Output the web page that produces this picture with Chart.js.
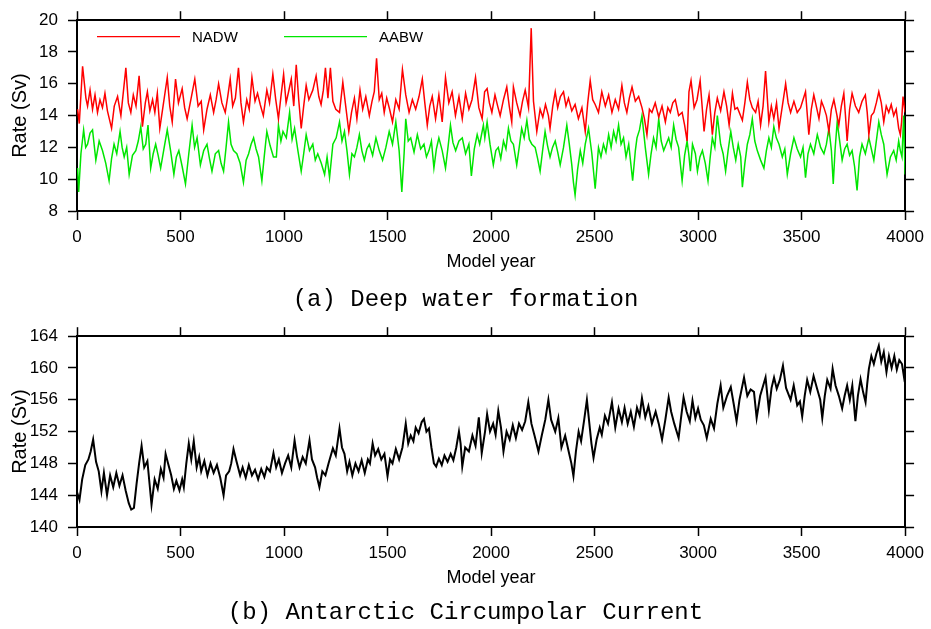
<!DOCTYPE html>
<html>
<head>
<meta charset="utf-8">
<title>Deep water formation and ACC</title>
<script src="https://cdn.jsdelivr.net/npm/chart.js@4.4.1/dist/chart.umd.min.js"></script>
<style>
  html, body { margin: 0; padding: 0; background: #fff; overflow: hidden; }
  canvas { position: absolute; left: 0; }
  #formation { top: 0; }
  #acc { top: 316px; }
</style>
</head>
<body>
<canvas id="formation" width="931" height="316"></canvas>
<canvas id="acc" width="931" height="313"></canvas>
<script>
// NADW formation rate (Sv) by model year
const nadwYears = [3, 11, 27, 43, 51, 63, 75, 87, 99, 111, 123, 135, 147, 167, 180, 196, 212, 236, 248, 260,
  272, 285, 300, 316, 330, 340, 352, 365, 376, 388, 400, 418, 436, 448, 460, 476, 490, 508, 520, 532,
  550, 569, 585, 600, 612, 628, 644, 660, 672, 684, 700, 716, 728, 740, 752, 765, 780, 792, 804, 820,
  832, 845, 860, 872, 885, 900, 917, 930, 946, 960, 973, 986, 998, 1010, 1022, 1035, 1047, 1059, 1071, 1083,
  1095, 1107, 1120, 1139, 1155, 1168, 1179, 1190, 1200, 1212, 1224, 1236, 1250, 1268, 1284, 1298, 1313, 1326, 1340, 1352,
  1367, 1380, 1395, 1412, 1425, 1436, 1447, 1460, 1472, 1484, 1496, 1510, 1524, 1540, 1556, 1572, 1588, 1604, 1620, 1636,
  1652, 1668, 1680, 1692, 1704, 1716, 1732, 1748, 1764, 1780, 1796, 1812, 1828, 1845, 1861, 1877, 1893, 1908, 1925, 1941,
  1957, 1969, 1981, 1992, 2004, 2019, 2032, 2044, 2060, 2076, 2088, 2100, 2108, 2124, 2140, 2152, 2165, 2181, 2194, 2205,
  2221, 2237, 2250, 2263, 2277, 2285, 2298, 2310, 2322, 2335, 2350, 2362, 2374, 2390, 2406, 2422, 2439, 2455, 2467, 2479,
  2491, 2503, 2519, 2535, 2552, 2568, 2584, 2600, 2616, 2632, 2644, 2656, 2668, 2681, 2697, 2713, 2729, 2741, 2753, 2765,
  2777, 2793, 2810, 2826, 2842, 2854, 2866, 2878, 2890, 2906, 2923, 2935, 2947, 2956, 2966, 2981, 2995, 3010, 3029, 3041,
  3053, 3069, 3081, 3093, 3109, 3125, 3138, 3150, 3166, 3178, 3190, 3214, 3226, 3238, 3250, 3262, 3278, 3290, 3302, 3314,
  3326, 3342, 3354, 3366, 3379, 3391, 3407, 3423, 3435, 3447, 3463, 3479, 3495, 3507, 3519, 3535, 3547, 3559, 3571, 3584,
  3596, 3608, 3620, 3632, 3644, 3656, 3668, 3680, 3692, 3704, 3712, 3720, 3732, 3744, 3760, 3776, 3792, 3808, 3817, 3825,
  3837, 3849, 3861, 3873, 3885, 3897, 3909, 3921, 3933, 3945, 3957, 3969, 3977, 3983, 3990, 4000];
const nadwRate = [14.4, 13.5, 17.1, 15.1, 14.6, 15.6, 14.4, 15.3, 14.2, 15.0, 14.5, 15.4, 14.3, 13.2, 14.6, 15.2, 14.0, 17.0, 14.8, 14.2,
  15.3, 14.6, 16.5, 13.3, 14.8, 15.5, 14.3, 15.0, 14.2, 15.4, 13.2, 14.8, 16.4, 14.6, 13.6, 16.3, 14.8, 15.7, 14.5, 13.8,
  15.0, 16.3, 14.6, 14.9, 13.1, 14.4, 15.3, 14.2, 15.0, 16.0, 14.8, 14.2, 15.2, 16.3, 14.6, 15.1, 17.0, 14.8, 13.6, 15.0,
  14.4, 16.4, 14.9, 15.4, 14.7, 14.0, 15.6, 14.8, 16.6, 15.0, 13.8, 15.3, 16.6, 14.8, 15.5, 16.3, 14.6, 17.2, 15.0, 13.2,
  14.6, 15.9, 15.0, 15.6, 16.5, 15.2, 14.7, 15.6, 17.0, 15.1, 17.0, 14.9, 14.4, 14.2, 16.1, 14.6, 13.0, 14.2, 15.1, 13.8,
  15.6, 14.4, 15.2, 14.0, 14.9, 15.5, 17.6, 15.0, 15.4, 14.2, 15.1, 14.4, 13.6, 15.0, 14.4, 16.9, 15.3, 14.2, 15.0, 14.4,
  15.2, 16.3, 14.8, 13.4, 14.6, 15.2, 13.8, 15.3, 13.6, 16.4, 14.8, 15.5, 14.0, 15.2, 13.8, 15.4, 14.4, 15.0, 16.4, 14.5,
  13.8, 15.5, 15.7, 14.8, 14.2, 15.3, 14.6, 14.0, 15.0, 15.8, 14.6, 13.6, 15.8, 14.8, 14.0, 14.9, 15.6, 14.5, 19.5, 14.9,
  13.0, 14.4, 13.9, 14.7, 14.0, 13.2, 14.6, 15.5, 14.5, 15.2, 15.5, 14.6, 15.1, 14.3, 14.7, 13.8, 14.5, 13.0, 14.8, 16.2,
  15.0, 14.7, 14.2, 15.5, 14.6, 15.3, 14.2, 15.0, 14.4, 15.9, 14.8, 14.2, 15.1, 15.8, 14.9, 15.2, 14.5, 13.8, 12.8, 14.4,
  14.2, 14.8, 13.9, 14.6, 13.6, 14.5, 14.2, 14.8, 15.0, 14.0, 14.2, 13.4, 12.4, 15.5, 16.2, 14.5, 15.0, 16.2, 13.0, 14.4,
  15.3, 12.8, 14.2, 15.1, 14.3, 15.5, 14.6, 13.4, 15.4, 14.4, 14.5, 13.7, 14.8, 16.1, 15.0, 14.5, 14.2, 14.9, 13.4, 14.6,
  16.8, 13.6, 14.6, 13.8, 14.8, 13.2, 14.6, 16.0, 14.8, 14.2, 14.9, 14.2, 14.5, 15.0, 15.5, 12.8, 14.4, 15.3, 14.6, 13.8,
  14.9, 14.5, 14.0, 13.0, 14.4, 15.0, 14.2, 13.4, 14.6, 15.4, 14.0, 12.4, 14.4, 15.4, 14.6, 14.2, 14.9, 15.3, 14.2, 12.8,
  14.0, 14.2, 14.8, 15.5, 14.8, 13.6, 14.6, 14.2, 14.7, 14.0, 14.4, 13.2, 12.8, 13.6, 15.2, 14.2];

// AABW formation rate (Sv) by model year
const aabwYears = [3, 8, 19, 32, 42, 51, 63, 75, 91, 107, 123, 139, 155, 167, 179, 192, 208, 218, 228, 240,
  252, 268, 284, 296, 308, 320, 332, 343, 356, 368, 380, 392, 404, 420, 436, 452, 468, 480, 492, 508,
  524, 540, 556, 568, 580, 596, 612, 628, 640, 652, 668, 684, 696, 708, 720, 732, 744, 756, 772, 788,
  804, 817, 829, 841, 853, 865, 877, 893, 905, 917, 933, 949, 963, 973, 985, 995, 1011, 1027, 1039, 1051,
  1067, 1083, 1095, 1107, 1123, 1139, 1151, 1163, 1180, 1196, 1208, 1220, 1236, 1252, 1268, 1280, 1292, 1304, 1316, 1328,
  1340, 1352, 1364, 1376, 1388, 1400, 1412, 1428, 1444, 1460, 1476, 1492, 1508, 1524, 1540, 1556, 1569, 1580, 1588, 1600,
  1612, 1628, 1644, 1660, 1676, 1688, 1700, 1712, 1724, 1736, 1748, 1764, 1780, 1792, 1804, 1816, 1829, 1845, 1861, 1877,
  1893, 1905, 1919, 1933, 1945, 1957, 1963, 1970, 1981, 1995, 2011, 2023, 2035, 2047, 2060, 2072, 2084, 2096, 2108, 2124,
  2136, 2148, 2160, 2173, 2185, 2197, 2213, 2225, 2237, 2249, 2261, 2273, 2285, 2297, 2310, 2322, 2334, 2350, 2366, 2378,
  2390, 2398, 2406, 2418, 2431, 2443, 2455, 2471, 2487, 2503, 2519, 2531, 2543, 2555, 2568, 2580, 2592, 2604, 2616, 2628,
  2640, 2652, 2665, 2684, 2697, 2705, 2717, 2729, 2745, 2761, 2773, 2785, 2797, 2810, 2822, 2834, 2846, 2858, 2870, 2882,
  2894, 2906, 2923, 2935, 2947, 2955, 2963, 2973, 2987, 2997, 3009, 3021, 3035, 3048, 3058, 3069, 3081, 3093, 3109, 3121,
  3133, 3145, 3158, 3170, 3182, 3194, 3206, 3214, 3226, 3238, 3250, 3262, 3274, 3286, 3302, 3318, 3330, 3342, 3354, 3366,
  3378, 3391, 3407, 3419, 3431, 3447, 3463, 3479, 3495, 3507, 3519, 3531, 3543, 3559, 3576, 3592, 3608, 3620, 3632, 3644,
  3653, 3662, 3672, 3684, 3696, 3708, 3720, 3732, 3744, 3756, 3768, 3780, 3792, 3808, 3825, 3837, 3849, 3861, 3873, 3885,
  3897, 3905, 3913, 3929, 3945, 3957, 3969, 3977, 3985, 3993, 4000];
const aabwRate = [10.7, 9.2, 11.6, 13.1, 12.0, 12.2, 12.9, 13.1, 11.2, 12.4, 11.8, 11.0, 9.9, 11.3, 12.2, 11.6, 13.0, 12.0, 11.4, 12.0,
  10.3, 11.5, 11.8, 12.4, 13.3, 11.9, 12.2, 13.4, 10.7, 11.6, 12.2, 11.5, 10.7, 11.9, 13.1, 11.8, 10.3, 11.4, 11.8, 10.8,
  9.7, 11.6, 13.4, 12.0, 12.6, 10.9, 11.8, 12.2, 11.3, 10.5, 11.6, 11.8, 11.0, 10.5, 12.0, 13.6, 12.2, 11.8, 11.6, 11.0,
  9.8, 11.2, 11.6, 12.2, 12.6, 11.9, 11.4, 9.9, 11.5, 13.0, 12.1, 11.4, 11.4, 13.4, 12.4, 13.0, 12.6, 14.2, 12.5, 13.2,
  11.8, 10.5, 11.6, 12.8, 11.8, 12.2, 11.2, 11.6, 11.0, 10.3, 11.4, 10.1, 12.2, 12.6, 13.6, 12.4, 13.0, 11.8, 10.3, 11.6,
  11.4, 12.0, 12.8, 11.8, 11.2, 11.9, 12.2, 11.5, 12.6, 11.8, 11.2, 12.0, 13.0, 12.2, 13.6, 11.8, 9.2, 11.6, 13.8, 12.4,
  12.6, 11.7, 12.8, 11.9, 12.2, 11.4, 11.8, 12.4, 10.7, 11.9, 12.6, 11.8, 10.7, 12.0, 13.4, 12.3, 11.8, 12.4, 12.6, 11.6,
  12.2, 10.2, 11.9, 12.8, 12.2, 13.0, 13.4, 12.6, 13.6, 12.2, 10.9, 11.8, 12.0, 11.3, 12.4, 11.9, 13.2, 12.4, 12.2, 10.9,
  12.0, 13.2, 12.6, 13.7, 12.5, 12.2, 12.0, 11.3, 10.5, 11.8, 13.0, 12.1, 11.4, 12.0, 12.4, 11.7, 10.9, 12.0, 13.4, 12.2,
  10.9, 9.8, 9.0, 10.6, 11.8, 11.0, 12.2, 13.2, 11.6, 9.4, 12.0, 11.4, 12.2, 11.7, 12.8, 12.0, 13.0, 12.4, 13.4, 12.2,
  12.6, 11.4, 12.2, 9.9, 11.8, 12.6, 13.1, 14.0, 12.0, 10.3, 11.6, 12.6, 12.0, 13.8, 12.4, 11.8, 12.2, 12.6, 12.0, 13.4,
  12.5, 12.0, 9.9, 11.5, 12.4, 11.6, 10.5, 12.2, 11.6, 10.5, 11.4, 11.8, 11.0, 9.9, 11.3, 12.6, 12.0, 14.0, 12.2, 11.6,
  10.5, 11.8, 13.0, 12.0, 11.2, 12.2, 11.4, 9.5, 11.0, 12.2, 12.8, 13.8, 12.4, 11.8, 11.2, 10.7, 11.8, 12.6, 12.0, 13.3,
  12.6, 12.2, 11.4, 11.9, 10.3, 11.6, 12.6, 11.9, 11.4, 12.0, 10.1, 11.6, 12.2, 11.6, 12.8, 12.0, 11.6, 12.2, 13.2, 11.8,
  9.7, 11.9, 13.6, 12.4, 11.2, 11.9, 12.2, 11.5, 11.8, 10.8, 9.3, 11.4, 12.2, 11.6, 12.6, 11.9, 11.2, 12.4, 13.6, 12.8,
  12.2, 11.2, 10.3, 11.4, 11.8, 11.2, 12.4, 11.8, 11.4, 14.0, 10.3];

// Antarctic Circumpolar Current transport (Sv) by model year
const accYears = [0, 12, 25, 40, 55, 66, 78, 92, 105, 118, 130, 145, 160, 175, 190, 205, 220, 235, 250, 262,
  275, 288, 300, 312, 325, 340, 352, 360, 375, 390, 405, 418, 428, 440, 455, 468, 480, 495, 508, 516,
  528, 540, 552, 564, 578, 590, 600, 615, 630, 645, 660, 676, 692, 708, 720, 735, 745, 756, 770, 788,
  800, 815, 830, 845, 860, 875, 890, 905, 917, 932, 949, 962, 975, 990, 1005, 1020, 1035, 1051, 1063, 1075,
  1090, 1105, 1123, 1135, 1150, 1160, 1171, 1185, 1200, 1215, 1236, 1250, 1268, 1280, 1292, 1305, 1316, 1330, 1345, 1360,
  1375, 1390, 1405, 1415, 1428, 1440, 1455, 1470, 1485, 1500, 1512, 1524, 1540, 1556, 1572, 1588, 1600, 1612, 1625, 1636,
  1650, 1665, 1676, 1688, 1700, 1712, 1724, 1735, 1748, 1762, 1775, 1790, 1805, 1818, 1832, 1845, 1853, 1861, 1875, 1893,
  1910, 1925, 1941, 1955, 1971, 1981, 1995, 2010, 2022, 2035, 2048, 2060, 2075, 2090, 2105, 2120, 2135, 2150, 2165, 2180,
  2195, 2210, 2229, 2245, 2262, 2277, 2290, 2310, 2325, 2340, 2358, 2375, 2388, 2398, 2410, 2423, 2435, 2450, 2463, 2475,
  2485, 2495, 2510, 2525, 2535, 2550, 2565, 2584, 2600, 2616, 2632, 2645, 2660, 2675, 2690, 2705, 2718, 2729, 2745, 2760,
  2777, 2795, 2810, 2826, 2842, 2858, 2870, 2885, 2906, 2918, 2930, 2945, 2960, 2973, 2987, 3000, 3013, 3028, 3042, 3061,
  3077, 3093, 3109, 3122, 3140, 3158, 3172, 3186, 3200, 3222, 3238, 3254, 3270, 3283, 3300, 3326, 3342, 3355, 3367, 3380,
  3395, 3410, 3425, 3447, 3462, 3479, 3492, 3503, 3515, 3527, 3542, 3558, 3576, 3590, 3600, 3612, 3624, 3640, 3650, 3664,
  3680, 3696, 3708, 3720, 3733, 3745, 3760, 3772, 3785, 3797, 3809, 3817, 3825, 3837, 3849, 3861, 3873, 3885, 3897, 3910,
  3922, 3935, 3948, 3960, 3972, 3985, 3994, 4000];
const accRate = [144.4, 143.4, 146.0, 147.8, 148.5, 149.5, 151.0, 148.2, 147.0, 144.5, 146.8, 144.0, 146.5, 145.0, 146.8, 145.2, 146.5, 144.6, 143.0, 142.2,
  142.4, 145.5, 148.0, 150.2, 147.5, 148.3, 145.0, 142.8, 146.0, 144.8, 147.3, 146.2, 149.2, 148.0, 146.5, 144.8, 145.8, 144.6, 146.0, 145.0,
  148.0, 150.5, 148.5, 150.8, 147.5, 148.8, 147.0, 148.3, 146.5, 148.0, 146.8, 147.8, 146.2, 144.0, 146.5, 147.0, 148.0, 149.8, 148.3, 146.5,
  147.5, 146.2, 147.8, 146.5, 147.2, 146.0, 147.3, 146.3, 147.5, 147.0, 149.3, 147.5, 148.5, 146.8, 148.0, 149.0, 147.5, 150.9, 148.8, 147.5,
  148.8, 148.0, 150.9, 148.5, 147.5, 146.2, 145.0, 147.0, 146.5, 148.0, 149.9, 149.0, 152.4, 150.0, 149.2, 147.0, 148.2, 146.5, 148.0, 147.0,
  148.4, 146.8, 148.5, 148.0, 150.5, 149.0, 149.8, 148.5, 149.2, 146.4, 148.5, 148.0, 149.8, 148.5, 150.0, 153.0, 150.5, 151.5, 150.8, 152.5,
  151.8, 153.2, 153.6, 152.0, 152.4, 150.0, 148.0, 147.6, 148.6, 147.8, 149.0, 148.2, 149.2, 148.4, 150.0, 152.0, 150.5, 147.6, 150.0, 149.5,
  151.5, 150.2, 153.8, 149.3, 152.0, 154.2, 152.0, 153.0, 151.6, 154.6, 152.5, 149.5, 152.0, 151.0, 152.8, 151.2, 153.0, 152.2, 153.3, 155.7,
  153.0, 151.5, 149.5, 151.5, 153.5, 156.0, 153.5, 152.0, 153.7, 150.0, 151.5, 149.5, 148.0, 146.4, 149.5, 152.0, 150.8, 153.5, 156.0, 153.0,
  150.5, 148.7, 151.0, 152.5, 151.6, 154.0, 153.0, 155.7, 152.5, 154.9, 153.2, 155.0, 153.0, 154.5, 152.6, 155.0, 154.0, 156.2, 153.8, 155.2,
  153.0, 154.5, 153.0, 151.0, 153.5, 156.3, 154.5, 153.0, 151.2, 153.8, 156.3, 154.5, 153.3, 155.9, 153.7, 154.9, 153.5, 152.8, 151.2, 153.6,
  152.4, 155.5, 157.8, 155.0, 156.5, 157.6, 155.5, 153.3, 156.0, 158.8, 156.5, 157.3, 157.0, 153.7, 156.5, 158.8, 154.7, 157.5, 158.8, 157.4,
  158.5, 160.3, 157.5, 156.0, 157.8, 155.3, 155.8, 153.9, 156.5, 158.5, 157.0, 159.0, 157.3, 156.0, 153.7, 156.5, 158.5, 157.4, 159.9, 157.8,
  156.5, 154.9, 156.5, 157.8, 156.0, 157.8, 153.3, 156.5, 158.6, 157.0, 155.7, 158.0, 159.9, 161.5, 160.5, 161.8, 162.8, 160.8, 162.0, 159.5,
  161.5, 160.0, 161.5, 159.8, 161.0, 160.5, 159.0, 160.0];

// plot frame shared by both panels (canvas pixels)
const PLOT_TOP = 17;
const PLOT_BOTTOM = 211;
const PLOT_LEFT = 77;
const PLOT_RIGHT_GAP = 931 - 908;

const tickFont = { family: "'Liberation Sans', Arial, sans-serif", size: 17 };
const labelFont = { family: "'Liberation Sans', Arial, sans-serif", size: 18, lineHeight: 1.2 };
const rateFont = { family: "'Liberation Sans', Arial, sans-serif", size: 20, lineHeight: 1.2 };
const captionFont = { family: "'Liberation Mono', 'DejaVu Sans Mono', monospace", size: 24, weight: "normal", lineHeight: 1.2 };

function toPoints(xs, ys) {
  return xs.map((x, i) => ({ x, y: ys[i] }));
}

// small line legend drawn in the upper-left corner of the plot
const cornerLegend = {
  id: "cornerLegend",
  afterDatasetsDraw(chart, args, opts) {
    if (!opts.show) return;
    const { ctx, chartArea } = chart;
    ctx.save();
    ctx.font = "15px 'Liberation Sans', Arial, sans-serif";
    ctx.textBaseline = "middle";
    chart.data.datasets.forEach((ds, i) => {
      const x0 = chartArea.left + 20 + i * 187;
      const y = chartArea.top + 16.5;
      ctx.strokeStyle = ds.borderColor;
      ctx.lineWidth = 1.3;
      ctx.beginPath();
      ctx.moveTo(x0, y);
      ctx.lineTo(x0 + 83, y);
      ctx.stroke();
      ctx.fillStyle = "#000";
      ctx.fillText(ds.label, x0 + 95, y + 1);
    });
    ctx.restore();
  }
};

function frameAxis(position, min, max, step, size) {
  const horizontal = position === "top" || position === "bottom";
  return {
    type: "linear",
    position,
    min,
    max,
    ticks: { stepSize: step, display: false },
    grid: { drawOnChartArea: false, tickLength: 9, tickWidth: 1.5, tickColor: "#000" },
    border: { color: "#000", width: 2 },
    afterFit: (axis) => {
      if (horizontal) axis.height = size;
      else axis.width = size;
    }
  };
}

function makePanel(canvasId, datasets, yMin, yMax, yStep, caption, captionY, showLegend) {
  const canvas = document.getElementById(canvasId);
  const H = canvas.height;
  const captionPad = H - captionY - captionFont.size * captionFont.lineHeight / 2;
  const captionBox = captionFont.size * captionFont.lineHeight + captionPad;
  const xAxisHeight = H - PLOT_BOTTOM - captionBox;
  const yearTitlePad = xAxisHeight - 51 - labelFont.size * labelFont.lineHeight / 2;

  return new Chart(canvas, {
    type: "line",
    data: { datasets },
    plugins: [cornerLegend],
    options: {
      responsive: false,
      animation: false,
      devicePixelRatio: 1,
      events: [],
      layout: { padding: 0 },
      elements: { point: { radius: 0 }, line: { tension: 0 } },
      scales: {
        x: {
          type: "linear",
          min: 0,
          max: 4000,
          ticks: {
            stepSize: 500,
            padding: 7,
            color: "#000",
            font: tickFont,
            maxRotation: 0,
            autoSkip: false,
            callback: (v) => String(v)
          },
          grid: { drawOnChartArea: false, tickLength: 9, tickWidth: 1.5, tickColor: "#000" },
          border: { color: "#000", width: 2 },
          title: {
            display: true,
            text: "Model year",
            color: "#000",
            font: labelFont,
            padding: { top: 0, bottom: yearTitlePad }
          },
          afterFit: (axis) => { axis.height = xAxisHeight; }
        },
        x2: frameAxis("top", 0, 4000, 500, PLOT_TOP),
        y: {
          type: "linear",
          min: yMin,
          max: yMax,
          ticks: {
            stepSize: yStep,
            padding: 10,
            color: "#000",
            font: tickFont,
            callback: (v) => String(v)
          },
          grid: { drawOnChartArea: false, tickLength: 9, tickWidth: 1.5, tickColor: "#000" },
          border: { color: "#000", width: 2 },
          title: {
            display: true,
            text: "Rate (Sv)",
            color: "#000",
            font: rateFont,
            padding: { top: 8, bottom: 0 }
          },
          afterFit: (axis) => { axis.width = PLOT_LEFT; }
        },
        y2: frameAxis("right", yMin, yMax, yStep, PLOT_RIGHT_GAP)
      },
      plugins: {
        legend: { display: false },
        tooltip: { enabled: false },
        cornerLegend: { show: showLegend },
        title: {
          display: true,
          position: "bottom",
          text: caption,
          color: "#000",
          font: captionFont,
          padding: { top: 0, bottom: captionPad }
        }
      }
    }
  });
}

makePanel("formation", [
  {
    label: "NADW",
    data: toPoints(nadwYears, nadwRate),
    borderColor: "#ff0000",
    borderWidth: 1.5,
    fill: false
  },
  {
    label: "AABW",
    data: toPoints(aabwYears, aabwRate),
    borderColor: "#00e600",
    borderWidth: 1.5,
    fill: false
  }
], 8, 20, 2, "(a) Deep water formation", 300, true);

makePanel("acc", [
  {
    label: "ACC",
    data: toPoints(accYears, accRate),
    borderColor: "#000000",
    borderWidth: 2,
    fill: false
  }
], 140, 164, 4, "(b) Antarctic Circumpolar Current", 297, false);
</script>
</body>
</html>
